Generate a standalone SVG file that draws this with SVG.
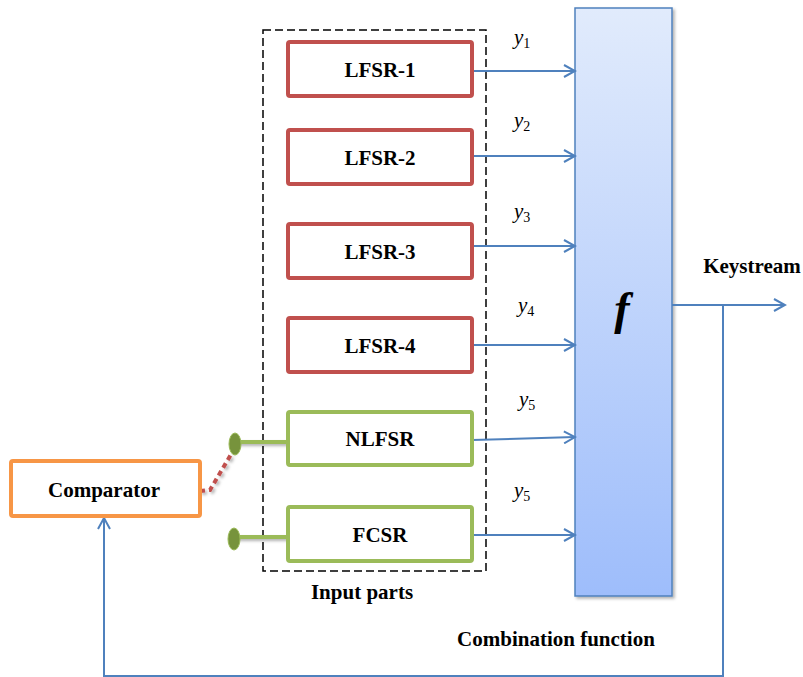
<svg xmlns="http://www.w3.org/2000/svg" width="803" height="677" viewBox="0 0 803 677">
<defs>
<linearGradient id="fg" x1="0" y1="0" x2="0" y2="1">
<stop offset="0" stop-color="#e1ebfc"/>
<stop offset="1" stop-color="#9ebdfb"/>
</linearGradient>
<marker id="ah" markerWidth="14" markerHeight="14" refX="12" refY="7" orient="auto" markerUnits="userSpaceOnUse">
<path d="M1,1 L12,7 L1,13" fill="none" stroke="#4f81bd" stroke-width="2"/>
</marker>
<filter id="sh" filterUnits="userSpaceOnUse" x="0" y="0" width="803" height="677">
<feDropShadow dx="2" dy="2" stdDeviation="1.5" flood-color="#000" flood-opacity="0.3"/>
</filter>
</defs>
<style>
.lbl{font-family:"Liberation Serif",serif;font-weight:bold;font-size:21px;fill:#000;text-anchor:middle}
.red{fill:#fff;stroke:#c0504d;stroke-width:4}
.grn{fill:#fff;stroke:#9bbb59;stroke-width:4}
.conn{fill:none;stroke:#4f81bd;stroke-width:2}
.y{font-family:"Liberation Serif",serif;font-style:italic;font-size:21px;fill:#000}
.ys{font-family:"Liberation Serif",serif;font-style:normal;font-size:14px;fill:#000}
</style>
<rect x="263" y="30" width="223" height="541" fill="none" stroke="#000" stroke-width="1.5" stroke-dasharray="8,4"/>
<g id="f">
<rect x="575" y="8" width="97" height="588" fill="url(#fg)" stroke="#4f81bd" stroke-width="1.5" filter="url(#sh)"/>
<text x="622" y="324" font-family="Liberation Serif,serif" font-weight="bold" font-style="italic" font-size="46" text-anchor="middle">f</text>
</g>
<g id="connectors">
<line class="conn" x1="472" y1="71" x2="575" y2="71" marker-end="url(#ah)"/>
<line class="conn" x1="472" y1="156" x2="575" y2="156" marker-end="url(#ah)"/>
<line class="conn" x1="472" y1="246" x2="575" y2="246" marker-end="url(#ah)"/>
<line class="conn" x1="472" y1="345" x2="575" y2="345" marker-end="url(#ah)"/>
<line class="conn" x1="472" y1="440" x2="575" y2="437" marker-end="url(#ah)"/>
<line class="conn" x1="472" y1="535" x2="575" y2="535" marker-end="url(#ah)"/>
<line class="conn" x1="672" y1="305" x2="785" y2="305" marker-end="url(#ah)"/>
<polyline class="conn" points="723,305 723,676 104,676 104,518" marker-end="url(#ah)"/>
<polyline points="200,491 210,490 233,451" fill="none" stroke="#c0504d" stroke-width="4" stroke-dasharray="5,4" filter="url(#sh)"/>
<line x1="236" y1="442" x2="288" y2="442" stroke="#9bbb59" stroke-width="4" filter="url(#sh)"/>
<line x1="235" y1="537" x2="288" y2="537" stroke="#9bbb59" stroke-width="4" filter="url(#sh)"/>
<ellipse cx="235" cy="444" rx="6" ry="11" fill="#77933c" stroke="#9bbb59" stroke-width="1"/>
<ellipse cx="234" cy="539" rx="6" ry="11" fill="#77933c" stroke="#9bbb59" stroke-width="1"/>
</g>
<g id="lfsr1"><rect class="red" x="288" y="42" width="184" height="54" rx="2"/><text class="lbl" x="380" y="77">LFSR-1</text></g>
<g id="lfsr2"><rect class="red" x="288" y="130" width="184" height="54" rx="2"/><text class="lbl" x="380" y="165">LFSR-2</text></g>
<g id="lfsr3"><rect class="red" x="288" y="224" width="184" height="54" rx="2"/><text class="lbl" x="380" y="259">LFSR-3</text></g>
<g id="lfsr4"><rect class="red" x="288" y="318" width="184" height="54" rx="2"/><text class="lbl" x="380" y="353">LFSR-4</text></g>
<g id="nlfsr"><rect class="grn" x="288" y="412" width="184" height="53" rx="2"/><text class="lbl" x="380" y="446">NLFSR</text></g>
<g id="fcsr"><rect class="grn" x="288" y="507" width="184" height="54" rx="2"/><text class="lbl" x="380" y="542">FCSR</text></g>
<g id="comparator"><rect x="11" y="461" width="189" height="55" rx="2" fill="#fff" stroke="#f79646" stroke-width="4"/><text class="lbl" x="104" y="497">Comparator</text></g>
<g id="labels">
<text class="y" x="514" y="44">y<tspan class="ys" dy="4">1</tspan></text>
<text class="y" x="514" y="127">y<tspan class="ys" dy="4">2</tspan></text>
<text class="y" x="514" y="218">y<tspan class="ys" dy="4">3</tspan></text>
<text class="y" x="518" y="312">y<tspan class="ys" dy="4">4</tspan></text>
<text class="y" x="519" y="406">y<tspan class="ys" dy="4">5</tspan></text>
<text class="y" x="514" y="497">y<tspan class="ys" dy="4">5</tspan></text>
<text class="lbl" x="752" y="273">Keystream</text>
<text class="lbl" x="362" y="599">Input parts</text>
<text class="lbl" x="556" y="646">Combination function</text>
</g>
</svg>
